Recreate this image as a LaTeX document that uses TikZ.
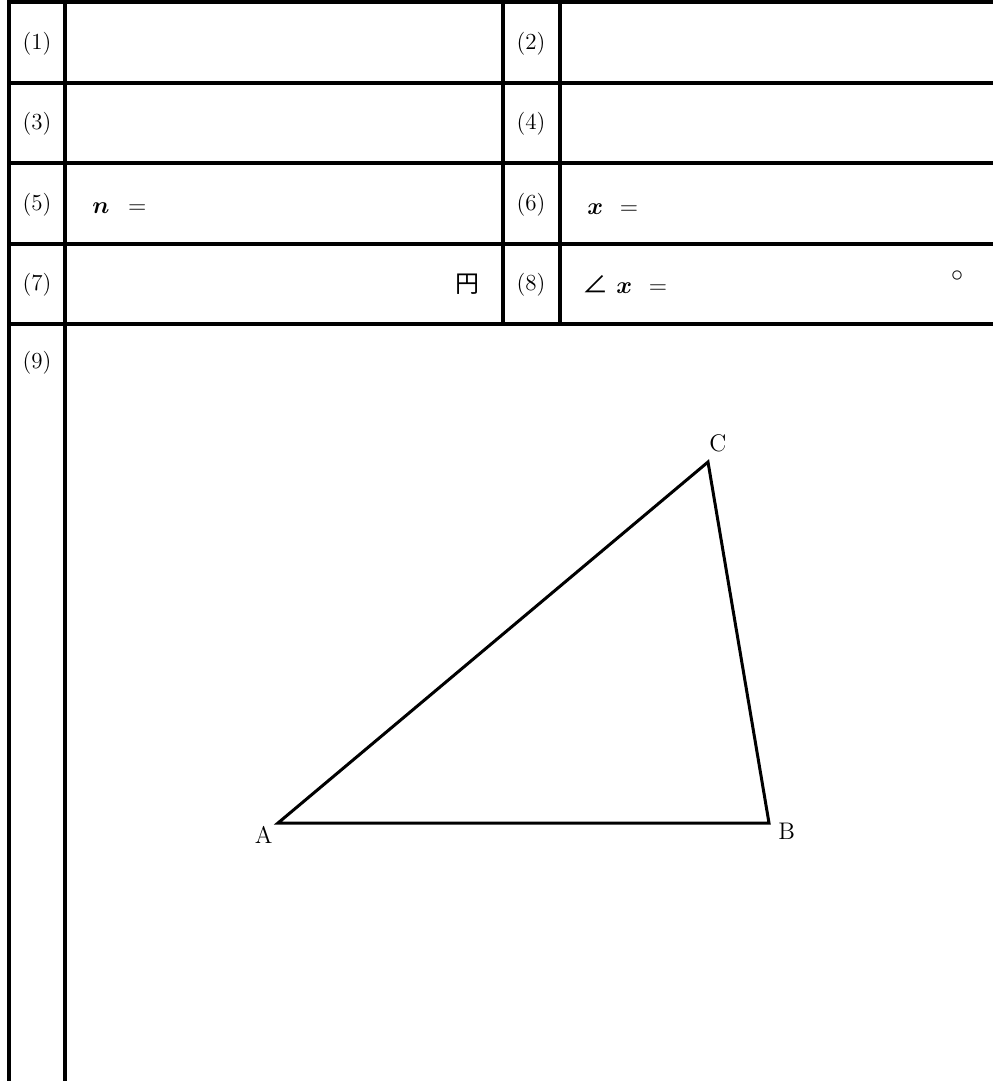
\documentclass[tikz,border=0pt]{standalone}
\usepackage{amsmath}
\usepackage{fontspec}
\newfontfamily\jpfont{Noto Sans CJK JP}
\usepackage{tikz}
\usetikzlibrary{positioning}

\begin{document}
\begin{tikzpicture}[x=0.5pt, y=-0.5pt,
				rule/.style={line width=2pt, line cap=rect},
				tri/.style={line width=1.5pt, line join=miter},
				num/.style={inner sep=0pt, font=\fontsize{11.5}{14}\selectfont},
				ans/.style={inner sep=0pt, anchor=base west, font=\fontsize{13}{15}\selectfont},
				vlabel/.style={inner sep=0pt, font=\fontsize{12}{14}\selectfont}]
				\useasboundingbox (0,0) rectangle (992,1081);
				% frame of the answer sheet
				\draw[rule] (9,0) -- (9,1081);
				\draw[rule] (65,0) -- (65,1081);
				\draw[rule] (9,2) -- (992,2);
				\draw[rule] (9,83) -- (992,83);
				\draw[rule] (9,163) -- (992,163);
				\draw[rule] (9,244) -- (992,244);
				\draw[rule] (9,324) -- (992,324);
				\draw[rule] (503,2) -- (503,324);
				\draw[rule] (560,2) -- (560,324);
				% numbers
				\node at (37,44) (q1) [num] {(1)};
				\node at (531,44) (q2) [num] {(2)};
				\node at (37,124) (q3) [num] {(3)};
				\node at (531,124) (q4) [num] {(4)};
				\node at (37,205) (q5) [num] {(5)};
				\node at (531,205) (q6) [num] {(6)};
				\node at (37,285) (q7) [num] {(7)};
				\node at (531,285) (q8) [num] {(8)};
				\node at (37,363) (q9) [num] {(9)};
				% answer texts
				\node at (92,213) (a5) [ans] {$\boldsymbol{n}\hspace{6pt}=$};
				\node at (587,214) (a6) [ans] {$\boldsymbol{x}\hspace{5pt}=$};
				\node at (582,293) (a8) [ans] {{\jpfont\fontsize{13}{15}\selectfont ∠}\hspace{4pt}$\boldsymbol{x}\hspace{5pt}=$};
				\node at (467,284) (yen) [inner sep=0pt, font=\jpfont\fontsize{12}{14}\selectfont] {円};
				\node at (957,276) (deg) [inner sep=0pt, font=\fontsize{12}{14}\selectfont] {$\circ$};
				% triangle
				\coordinate (A) at (278,823);
				\coordinate (B) at (769,823);
				\coordinate (C) at (708,462);
				\draw[tri] (A) -- (B) -- (C) -- cycle;
				\node (la) [vlabel, below left=1.5pt and 2.5pt of A] {A};
				\node (lb) [vlabel, below right=0pt and 4.5pt of B] {B};
				\node (lc) [vlabel, above right=5pt and 0.5pt of C] {C};
			\end{tikzpicture}
\end{document}
